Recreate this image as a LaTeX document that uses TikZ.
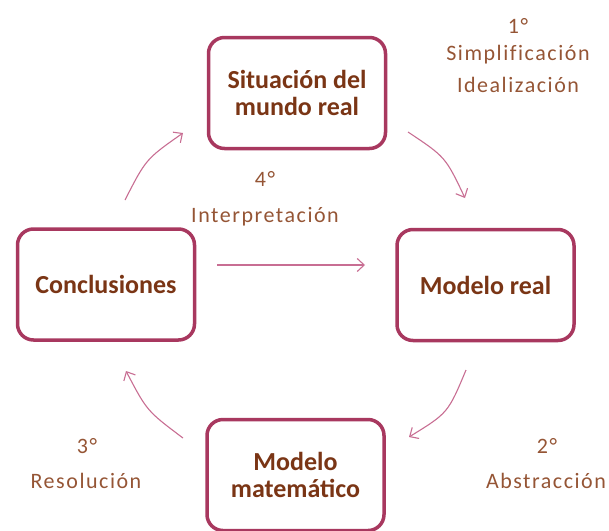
\documentclass[tikz,border=0pt]{standalone}
\usepackage{fontspec}
\setmainfont{Carlito}
\usetikzlibrary{arrows.meta}
\definecolor{boxc}{HTML}{A8385F}
\definecolor{arrc}{HTML}{C86E93}
\definecolor{txtb}{HTML}{7A3515}
\definecolor{txtl}{HTML}{955535}
\begin{document}
\begin{tikzpicture}[x=1pt,y=-1pt,
  stage/.style={draw=boxc, line width=3.5pt, rounded corners=16pt,
    minimum width=177pt, minimum height=111pt, align=center, text=txtb,
    font=\fontsize{26}{27}\selectfont\bfseries, inner sep=0pt},
  lbl/.style={anchor=base, text=txtl, inner sep=0pt,
    font=\fontsize{22}{26}\selectfont\addfontfeature{LetterSpace=7,Ligatures=NoCommon}},
  flow/.style={draw=arrc, line width=1.1pt, -{Straight Barb[length=7pt,width=13pt]}}]
\useasboundingbox (0,0) rectangle (609,530);
\clip (0,0) rectangle (609,530);
% stages
\node[stage] (real)  at (297,93)    {Situación del\\mundo real};
\node[stage] (concl) at (106,284.5) {Conclusiones};
\node[stage] (model) at (485.5,285) {Modelo real};
\node[stage] (math)  at (295.5,475) {Modelo\\matemático};
% labels
\node[lbl] (l1a) at (518,33)  {1°};
\node[lbl] (l1b) at (518,60)  {Simplificación};
\node[lbl] (l1c) at (518,92)  {Idealización};
\node[lbl] (l4a) at (265,186) {4°};
\node[lbl] (l4b) at (265,222) {Interpretación};
\node[lbl] (l3a) at (87,453)  {3°};
\node[lbl] (l3b) at (86,488)  {Resolución};
\node[lbl] (l2a) at (547,453) {2°};
\node[lbl] (l2b) at (546,488) {Abstracción};
% arrow end points
\coordinate (a1s) at (408,132); \coordinate (a1c) at (445.5,157); \coordinate (a1e) at (465,198);
\coordinate (a2s) at (466,370); \coordinate (a2c) at (448,413);   \coordinate (a2e) at (409,437);
\coordinate (a3s) at (183,438); \coordinate (a3c) at (147,411);   \coordinate (a3e) at (126,371);
\coordinate (a4s) at (125,200); \coordinate (a4c) at (146,159);   \coordinate (a4e) at (183,133);
\coordinate (a5s) at (217,265); \coordinate (a5e) at (365,265);
\draw[flow] (a1s) .. controls (a1c) .. (a1e);
\draw[flow] (a2s) .. controls (a2c) .. (a2e);
\draw[flow] (a3s) .. controls (a3c) .. (a3e);
\draw[flow] (a4s) .. controls (a4c) .. (a4e);
\draw[flow] (a5s) -- (a5e);
\end{tikzpicture}
\end{document}
